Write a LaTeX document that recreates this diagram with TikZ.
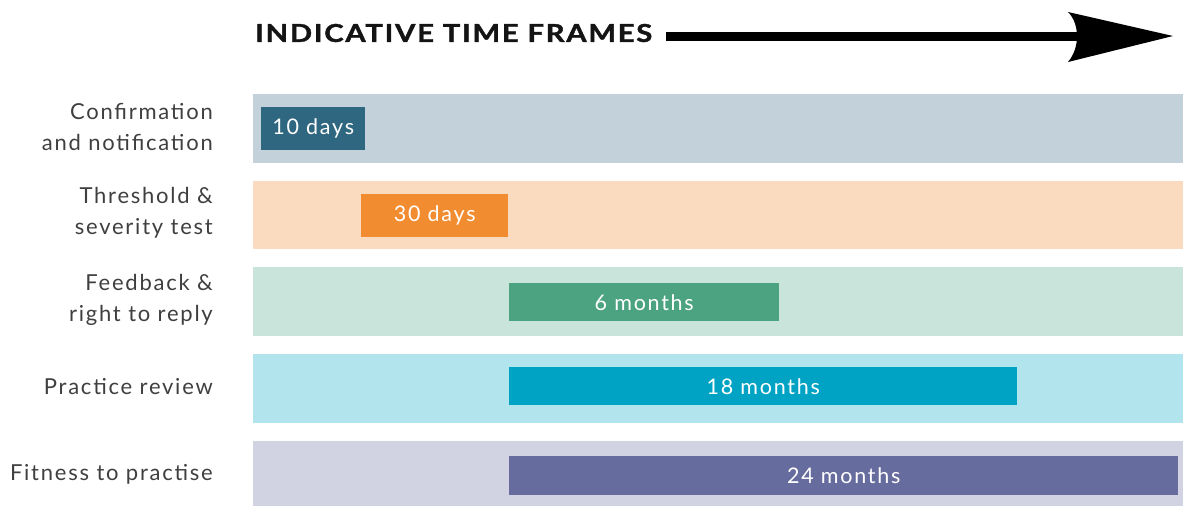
\documentclass[tikz,border=0pt]{standalone}
\usepackage{fontspec}
\setmainfont{Lato}[LetterSpace = 8]
\newfontfamily\titleFont{Lato}[LetterSpace = 6, BoldFeatures = {FakeBold = 1.4}]
\usetikzlibrary{positioning,arrows.meta}
\tikzstyle{timeline} = [x = 1pt, y = -1pt]
\definecolor{labelGray}{HTML}{3F3F3F}
\definecolor{confirmBand}{HTML}{C3D1DA}
\definecolor{confirmBar}{HTML}{2F6680}
\definecolor{thresholdBand}{HTML}{FADBC0}
\definecolor{thresholdBar}{HTML}{F28C30}
\definecolor{feedbackBand}{HTML}{C8E4DB}
\definecolor{feedbackBar}{HTML}{4CA382}
\definecolor{reviewBand}{HTML}{B2E4ED}
\definecolor{reviewBar}{HTML}{00A3C4}
\definecolor{fitnessBand}{HTML}{D1D3E3}
\definecolor{fitnessBar}{HTML}{676C9F}
\tikzstyle{barStyle} = [inner sep = 0pt, anchor = north west, text = white, font = \fontsize{21.5}{25}\selectfont]
\tikzstyle{labelStyle} = [anchor = east, align = right, inner sep = 0pt, text = labelGray, font = \fontsize{22}{30.5}\selectfont]
\tikzstyle{titleStyle} = [anchor = west, inner ysep = 0pt, inner xsep = 0pt, font = \titleFont\fontsize{25}{30}\bfseries\selectfont, text = black!92]
\tikzstyle{shaftStyle} = [line width = 9pt, black]
\newcommand{\timeBand}[3]{\fill [#2] (253, #1) rectangle + (930, #3);}
\newcommand{\timeBar}[7]{\node [barStyle, fill = #2, minimum width = #5pt, minimum height = #6pt] (#1) at (#3, #4) {#7};}

\begin{document}
\begin{tikzpicture}[timeline]
  \useasboundingbox (0, 0) rectangle (1183, 506);

  % title and time arrow
  \node [titleStyle] (title) at (255, 33) {\resizebox{397pt}{18pt}{INDICATIVE TIME FRAMES}};
  \coordinate (arrowTip) at (1173, 36);
  \coordinate (arrowBack) at (1078, 36);
  \draw [shaftStyle] ([xshift = 14pt] title.east |- arrowBack) -- (arrowBack);
  \fill [black] (arrowTip) -- (1068, 12) .. controls (1080, 24) and (1080, 48) .. (1068, 62) -- cycle;

  % background bands
  \timeBand{94}{confirmBand}{69}
  \timeBand{181}{thresholdBand}{68}
  \timeBand{267}{feedbackBand}{69}
  \timeBand{354}{reviewBand}{69}
  \timeBand{441}{fitnessBand}{65}

  % duration bars
  \timeBar{confirmBar}{confirmBar}{261}{107}{104}{43}{10 days}
  \timeBar{thresholdBar}{thresholdBar}{361}{194}{147}{43}{30 days}
  \timeBar{feedbackBar}{feedbackBar}{509}{283}{270}{38}{6 months}
  \timeBar{reviewBar}{reviewBar}{509}{367}{508}{38}{18 months}
  \timeBar{fitnessBar}{fitnessBar}{509}{456}{669}{39}{24 months}

  % row labels
  \node [labelStyle] (confirmLabel) at (213, 127) {Confirmation\\and notification};
  \node [labelStyle] (thresholdLabel) at (213, 213) {Threshold \&\\severity test};
  \node [labelStyle] (feedbackLabel) at (213, 300) {Feedback \&\\right to reply};
  \node [labelStyle] (reviewLabel) at (213, 387) {Practice review};
  \node [labelStyle] (fitnessLabel) at (213, 474) {Fitness to practise};
\end{tikzpicture}
\end{document}
